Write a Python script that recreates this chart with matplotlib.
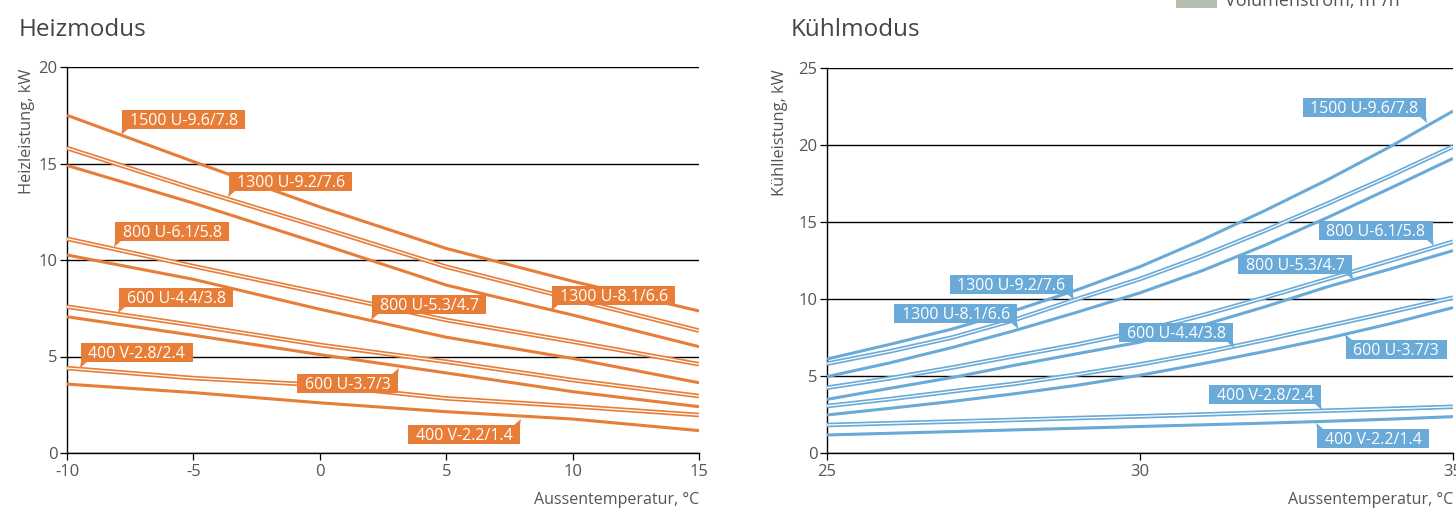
import matplotlib
matplotlib.use('Agg')

import matplotlib.pyplot as plt
from matplotlib.patches import Polygon, Rectangle
from matplotlib.transforms import IdentityTransform

plt.rcParams['font.family'] = ['Open Sans', 'DejaVu Sans']
plt.rcParams['axes.unicode_minus'] = False

ORANGE = '#E87D37'
BLUE = '#69AAD8'
GREY = '#555555'
W, H = 1456, 512

# Heizmodus (outside temperature, heating capacity kW)
heat_temp = [-10, -5, 0, 5, 10, 15]
heat_1500_u96 = [17.5, 15.1, 12.75, 10.6, 8.9, 7.36]
heat_1300_u92 = [15.8, 13.7, 11.7, 9.65, 7.98, 6.34]
heat_1300_u81 = [14.9, 12.95, 10.85, 8.7, 7.15, 5.51]
heat_800_u61 = [11.1, 9.68, 8.3, 6.89, 5.77, 4.6]
heat_800_u53 = [10.26, 9.0, 7.45, 6.0, 4.9, 3.64]
heat_600_u44 = [7.58, 6.62, 5.6, 4.73, 3.78, 2.95]
heat_600_u37 = [7.06, 6.1, 5.1, 4.15, 3.18, 2.4]
heat_400_v28 = [4.4, 3.88, 3.52, 2.83, 2.42, 1.97]
heat_400_v22 = [3.57, 3.13, 2.6, 2.14, 1.76, 1.16]

# Kühlmodus (outside temperature, cooling capacity kW)
cool_temp = [25, 26, 27, 28, 29, 30, 31, 32, 33, 34, 35]
cool_1500_u96 = [6.1, 7.05, 8.05, 9.25, 10.6, 12.1, 13.85, 15.75, 17.75, 19.9, 22.2]
cool_1300_u92 = [5.8, 6.6, 7.5, 8.65, 10.0, 11.3, 12.8, 14.45, 16.2, 18.0, 19.9]
cool_1300_u81 = [4.96, 5.85, 6.85, 7.95, 9.15, 10.4, 11.85, 13.5, 15.3, 17.2, 19.13]
cool_800_u61 = [4.24, 4.85, 5.55, 6.3, 7.05, 7.9, 8.95, 10.1, 11.3, 12.5, 13.72]
cool_800_u53 = [3.48, 4.2, 4.9, 5.7, 6.45, 7.2, 8.3, 9.5, 10.8, 11.95, 13.14]
cool_600_u44 = [3.05, 3.5, 4.0, 4.5, 5.1, 5.75, 6.5, 7.35, 8.25, 9.15, 10.09]
cool_600_u37 = [2.47, 2.9, 3.35, 3.85, 4.4, 5.05, 5.8, 6.6, 7.45, 8.4, 9.44]
cool_400_v28 = [1.82, 1.93, 2.04, 2.15, 2.27, 2.38, 2.5, 2.63, 2.75, 2.87, 3.0]
cool_400_v22 = [1.17, 1.28, 1.39, 1.5, 1.61, 1.72, 1.83, 1.94, 2.06, 2.2, 2.36]

names = ['1500 U-9.6/7.8', '1300 U-9.2/7.6', '1300 U-8.1/6.6', '800 U-6.1/5.8',
         '800 U-5.3/4.7', '600 U-4.4/3.8', '600 U-3.7/3', '400 V-2.8/2.4',
         '400 V-2.2/1.4']
double = [False, True, False, True, False, True, False, True, False]

heat_series = [heat_1500_u96, heat_1300_u92, heat_1300_u81, heat_800_u61,
               heat_800_u53, heat_600_u44, heat_600_u37, heat_400_v28, heat_400_v22]
cool_series = [cool_1500_u96, cool_1300_u92, cool_1300_u81, cool_800_u61,
               cool_800_u53, cool_600_u44, cool_600_u37, cool_400_v28, cool_400_v22]

# label tips (x, y in data units) and where the pointer sits relative to the box
heat_tags = [(-7.82, 16.48, 'bl'), (-3.59, 13.26, 'bl'), (9.19, 7.36, 'bl'),
             (-8.10, 10.67, 'bl'), (2.07, 6.89, 'bl'), (-7.94, 7.25, 'bl'),
             (3.09, 4.40, 'tr'), (-9.45, 4.40, 'bl'), (7.92, 1.76, 'tr')]
cool_tags = [(34.57, 21.43, 'br'), (28.93, 9.94, 'br'), (28.04, 8.05, 'br'),
             (34.68, 13.44, 'br'), (33.39, 11.23, 'br'), (31.49, 6.82, 'br'),
             (33.29, 7.73, 'tl'), (32.89, 2.79, 'br'), (32.83, 1.95, 'tl')]


def style_axes(ax, xlim, ylim, xticks, yticks):
  ax.set_xlim(*xlim)
  ax.set_ylim(*ylim)
  ax.set_xticks(xticks)
  ax.set_yticks(yticks)
  for s in ['top', 'right']:
    ax.spines[s].set_visible(False)
  for s in ['left', 'bottom']:
    ax.spines[s].set_color('black')
    ax.spines[s].set_linewidth(1.0)
  ax.tick_params(direction='out', length=5, width=0.9, color='black',
                 labelcolor=GREY, labelsize=12)
  ax.tick_params(axis='x', pad=3)
  ax.tick_params(axis='y', pad=2)
  ax.yaxis.grid(True, color='black', linewidth=1.0)
  ax.set_axisbelow(True)


def draw_lines(ax, xs, series, color):
  for ys, dbl in zip(series, double):
    if dbl:
      ax.plot(xs, ys, color=color, lw=3.3, solid_capstyle='butt', zorder=3)
      ax.plot(xs, ys, color='white', lw=0.9, solid_capstyle='butt', zorder=3)
    else:
      ax.plot(xs, ys, color=color, lw=2.2, solid_capstyle='butt', zorder=3)


def tag(ax, label, x, y, side, color):
  r = fig.canvas.get_renderer()
  tx, ty = ax.transData.transform((x, y))
  t = fig.text(0, 0, label, color='white', fontsize=11.5, ha='left',
               va='baseline', transform=IdentityTransform(), zorder=7)
  tw = t.get_window_extent(r).width
  w, h, d = tw + 15, 19, 6
  y0 = ty + d if side[0] == 'b' else ty - d - h
  x0 = tx if side[1] == 'l' else tx - w
  t.set_position((x0 + 7.5, y0 + 4.2))
  fig.add_artist(Rectangle((x0, y0), w, h, facecolor=color, edgecolor='none',
                           transform=IdentityTransform(), zorder=6))
  if side == 'bl':
    pts = [(tx - 1, ty), (x0, y0), (x0 + 6, y0)]
  elif side == 'br':
    pts = [(tx + 1, ty), (x0 + w, y0), (x0 + w - 6, y0)]
  elif side == 'tr':
    pts = [(tx + 1, ty), (x0 + w, y0 + h), (x0 + w - 6, y0 + h)]
  else:
    pts = [(tx - 1, ty), (x0, y0 + h), (x0 + 6, y0 + h)]
  fig.add_artist(Polygon(pts, closed=True, facecolor=color, edgecolor='none',
                         transform=IdentityTransform(), zorder=6))


fig = plt.figure(figsize=(W / 100, H / 100), dpi=100)

ax1 = fig.add_axes([67 / W, 59 / H, 632 / W, 386 / H])
style_axes(ax1, (-10, 15), (0, 20), heat_temp, [0, 5, 10, 15, 20])
draw_lines(ax1, heat_temp, heat_series, ORANGE)

ax2 = fig.add_axes([827 / W, 59 / H, 626 / W, 385 / H])
style_axes(ax2, (25, 35), (0, 25), [25, 30, 35], [0, 5, 10, 15, 20, 25])
draw_lines(ax2, cool_temp, cool_series, BLUE)

for name, (x, y, side) in zip(names, heat_tags):
  tag(ax1, name, x, y, side, ORANGE)
for name, (x, y, side) in zip(names, cool_tags):
  tag(ax2, name, x, y, side, BLUE)

# titles and axis labels
fig.text(19 / W, 1 - 30 / H, 'Heizmodus', fontsize=17.5, color='#444444', va='center')
fig.text(791 / W, 1 - 30 / H, 'Kühlmodus', fontsize=17.5, color='#444444', va='center')
fig.text(27 / W, 1 - 69 / H, 'Heizleistung, kW', rotation=90, ha='center', va='top',
         fontsize=11.8, color=GREY)
fig.text(780 / W, 1 - 69 / H, 'Kühlleistung, kW', rotation=90, ha='center', va='top',
         fontsize=11.8, color=GREY)
fig.text(699 / W, 1 - 500 / H, 'Aussentemperatur, °C', ha='right', va='center',
         fontsize=11.5, color=GREY)
fig.text(1453 / W, 1 - 500 / H, 'Aussentemperatur, °C', ha='right', va='center',
         fontsize=11.5, color=GREY)

# legend entry cut off at the top edge
fig.add_artist(Rectangle((1176 / W, 1 - 7.7 / H), 41 / W, 20 / H,
                         facecolor='#B5BDB1', edgecolor='none',
                         transform=fig.transFigure))
fig.text(1225 / W, 1 - 6.5 / H, 'Volumenstrom, m³/h', ha='left', va='baseline',
         fontsize=13, color=GREY)

fig.savefig('out.png', dpi=100)
